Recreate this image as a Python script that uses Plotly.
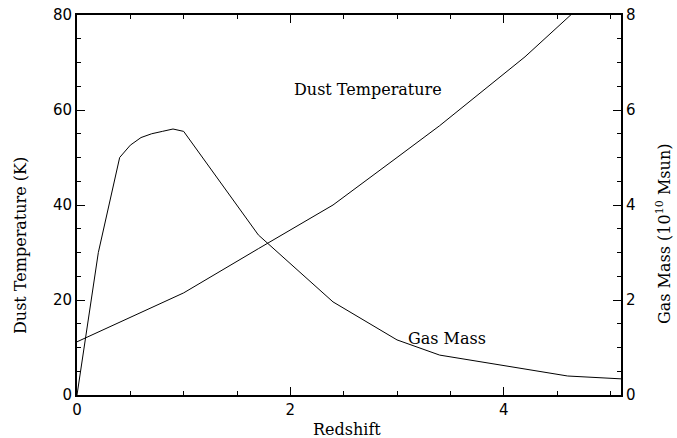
import plotly.graph_objects as go

# Data
dust_z = [0, 0.5, 1.0, 1.7, 2.4, 3.0, 3.4, 4.2, 4.6, 5.1]
dust_temp = [11.2, 16.3, 21.5, 30.8, 40.0, 50.0, 56.7, 71.2, 79.4, 89.7]

gas_z = [0, 0.2, 0.4, 0.5, 0.6, 0.7, 0.8, 0.9, 1.0, 1.7, 2.4, 3.0, 3.4, 4.2, 4.6, 5.1]
gas_mass = [0.0, 3.0, 5.0, 5.26, 5.42, 5.5, 5.55, 5.6, 5.55, 3.37, 1.96, 1.16, 0.84, 0.55, 0.40, 0.34]

x_ticks = [0, 2, 4]
y_left_ticks = [0, 20, 40, 60, 80]
y_right_ticks = [0, 2, 4, 6, 8]

SERIF = "DejaVu Serif"
SANS = "DejaVu Sans"

W, H = 677, 438
ML, MR, MT, MB = 77, 56, 15, 43

fig = go.Figure()
fig.add_trace(go.Scatter(x=dust_z, y=dust_temp, mode="lines",
                         line=dict(color="black", width=1), yaxis="y", showlegend=False))
fig.add_trace(go.Scatter(x=gas_z, y=gas_mass, mode="lines",
                         line=dict(color="black", width=1), yaxis="y2", showlegend=False))

axis_common = dict(showline=True, linecolor="black", linewidth=2, ticks="inside",
                   ticklen=8, tickwidth=1, tickcolor="black", showgrid=False, zeroline=False,
                   automargin=False,
                   tickfont=dict(family=SANS, size=15, color="black"))


def px(xp, yp):
    pw, ph = W - ML - MR, H - MT - MB
    return (xp - ML) / pw, (H - MB - yp) / ph


anns = []
for text, xp, yp, ang in [
    ("Dust Temperature", 368, 89, 0),
    ("Gas Mass", 447, 338, 0),
    ("Redshift", 347, 429, 0),
    ("Dust Temperature (K)", 20, 246, -90),
    ("Gas Mass (10<sup>10</sup> Msun)", 663, 234, -90),
]:
    ax, ay = px(xp, yp)
    anns.append(dict(text=text, x=ax, y=ay, xref="paper", yref="paper", showarrow=False,
                     textangle=ang, xanchor="center", yanchor="middle",
                     font=dict(family=SERIF, size=16, color="black")))

minor_common = dict(ticks="inside", ticklen=4, tickcolor="black", tickwidth=1, tick0=0)

fig.update_layout(
    width=W, height=H,
    margin=dict(l=ML, r=MR, t=MT, b=MB, autoexpand=False),
    paper_bgcolor="white", plot_bgcolor="white",
    xaxis=dict(range=[0, 5.1], tickvals=x_ticks, mirror="ticks",
               minor=dict(dtick=0.5, **minor_common),
               **axis_common),
    yaxis=dict(range=[0, 80], tickvals=y_left_ticks,
               minor=dict(dtick=5, **minor_common),
               **axis_common),
    yaxis2=dict(range=[0, 8], tickvals=y_right_ticks, overlaying="y", side="right",
                minor=dict(dtick=0.5, **minor_common),
                **axis_common),
    annotations=anns,
)

fig.write_html("out.html", config={"displayModeBar": False},
               post_script="document.body.style.margin='0';document.body.style.padding='0';")
